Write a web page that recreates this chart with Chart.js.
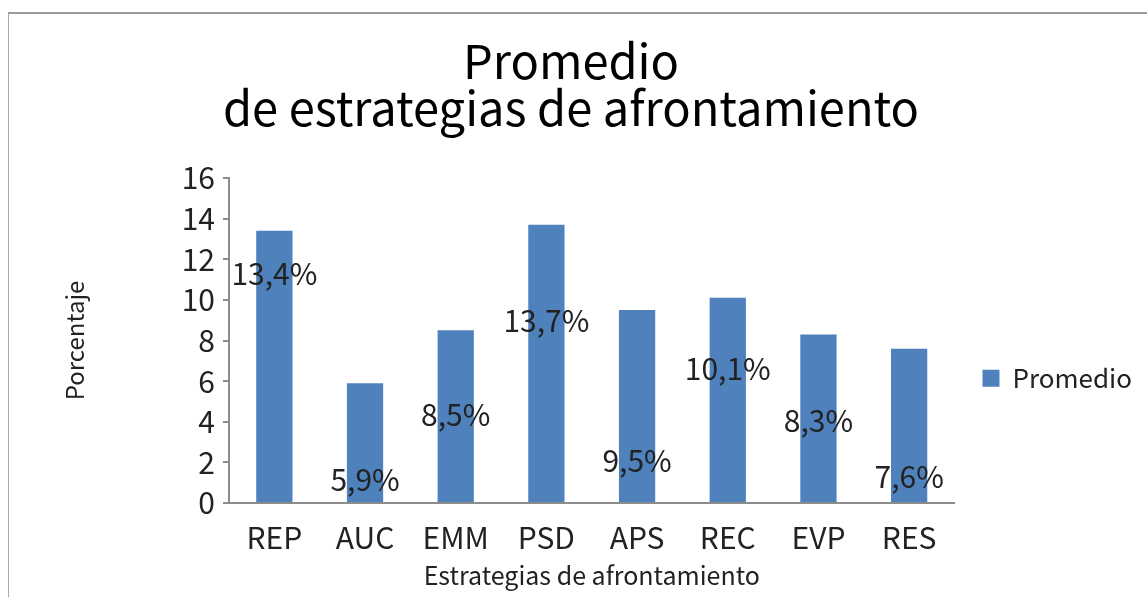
<!DOCTYPE html>
<html>
<head>
<meta charset="utf-8">
<script src="https://cdn.jsdelivr.net/npm/chart.js@4.4.1/dist/chart.umd.min.js"></script>
<style>
  html, body { margin: 0; padding: 0; background: #fff; overflow: hidden; }
  #frame { position: absolute; left: 8px; top: 12px; width: 2000px; height: 2000px;
           border-top: 2px solid #9a9a9a; border-left: 1px solid #a8a8a8; }
  #wrap { position: absolute; left: 0; top: 0; width: 1147px; height: 597px; }
</style>
</head>
<body>
<div id="frame"></div>
<div id="wrap"><canvas id="chart" width="1147" height="597"></canvas></div>
<script>
// datos
const categories = ['REP', 'AUC', 'EMM', 'PSD', 'APS', 'REC', 'EVP', 'RES'];
const promedio = [13.4, 5.9, 8.5, 13.7, 9.5, 10.1, 8.3, 7.6];
const valueLabels = ['13,4%', '5,9%', '8,5%', '13,7%', '9,5%', '10,1%', '8,3%', '7,6%'];
const yTicks = [0, 2, 4, 6, 8, 10, 12, 14, 16];

const FONT = '"Noto Sans CJK KR", "Noto Sans", sans-serif';
const BLUE = '#4f81bd';

// altura (en unidades del eje) donde quedaron las etiquetas en el original
const labelAt = [11.3, 1.13, 4.33, 9.0, 2.1, 6.6, 4.04, 1.28];

const valueLabelPlugin = {
  id: 'valueLabels',
  afterDatasetsDraw(chart) {
    const ctx = chart.ctx;
    const meta = chart.getDatasetMeta(0);
    const y = chart.scales.y;
    ctx.save();
    ctx.font = '30px ' + FONT;
    ctx.fillStyle = '#222';
    ctx.textAlign = 'center';
    ctx.textBaseline = 'middle';
    meta.data.forEach((bar, i) => {
      ctx.fillText(valueLabels[i], bar.x, y.getPixelForValue(labelAt[i]));
    });
    ctx.restore();
  }
};

new Chart(document.getElementById('chart'), {
  type: 'bar',
  data: {
    labels: categories,
    datasets: [{
      label: 'Promedio',
      data: promedio,
      backgroundColor: BLUE,
      borderWidth: 0,
      barPercentage: 0.4,
      categoryPercentage: 1.0
    }]
  },
  options: {
    responsive: false,
    animation: false,
    layout: { padding: { left: 0, right: 5, top: 0, bottom: 0 } },
    plugins: {
      title: {
        display: true,
        text: ['Promedio', 'de estrategias de afrontamiento'],
        color: '#000',
        font: { family: FONT, size: 47, weight: 'normal', lineHeight: 1.0 },
        padding: { top: 38, bottom: 46 }
      },
      legend: {
        position: 'right',
        fullSize: false,
        align: 'start',
        maxWidth: 200,
        title: { display: true, text: '', font: { size: 1 }, padding: { top: 158, bottom: 0 } },
        labels: {
          boxWidth: 17,
          boxHeight: 17,
          padding: 28,
          color: '#222',
          font: { family: FONT, size: 26 }
        }
      },
      tooltip: { enabled: false }
    },
    scales: {
      x: {
        grid: { display: false },
        border: { display: true, color: '#8c8c8c', width: 2 },
        ticks: { color: '#222', font: { family: FONT, size: 30 }, padding: 9 },
        title: {
          display: true,
          text: 'Estrategias de afrontamiento',
          color: '#222',
          font: { family: FONT, size: 25 },
          padding: { top: 0, bottom: 7 }
        },
        afterFit(scale) { scale.height = 94; }
      },
      y: {
        min: 0,
        max: 16,
        afterBuildTicks(scale) { scale.ticks = yTicks.map(v => ({ value: v })); },
        grid: { drawOnChartArea: false, drawTicks: true, tickLength: 6, color: '#8c8c8c', lineWidth: 2 },
        border: { display: true, color: '#8c8c8c', width: 2 },
        ticks: { color: '#222', font: { family: FONT, size: 30 }, padding: 8 },
        title: {
          display: true,
          text: 'Porcentaje',
          color: '#222',
          font: { family: FONT, size: 24 },
          padding: { top: 60, bottom: 0 }
        },
        afterFit(scale) { scale.width = 229; }
      }
    }
  },
  plugins: [valueLabelPlugin]
});
</script>
</body>
</html>
